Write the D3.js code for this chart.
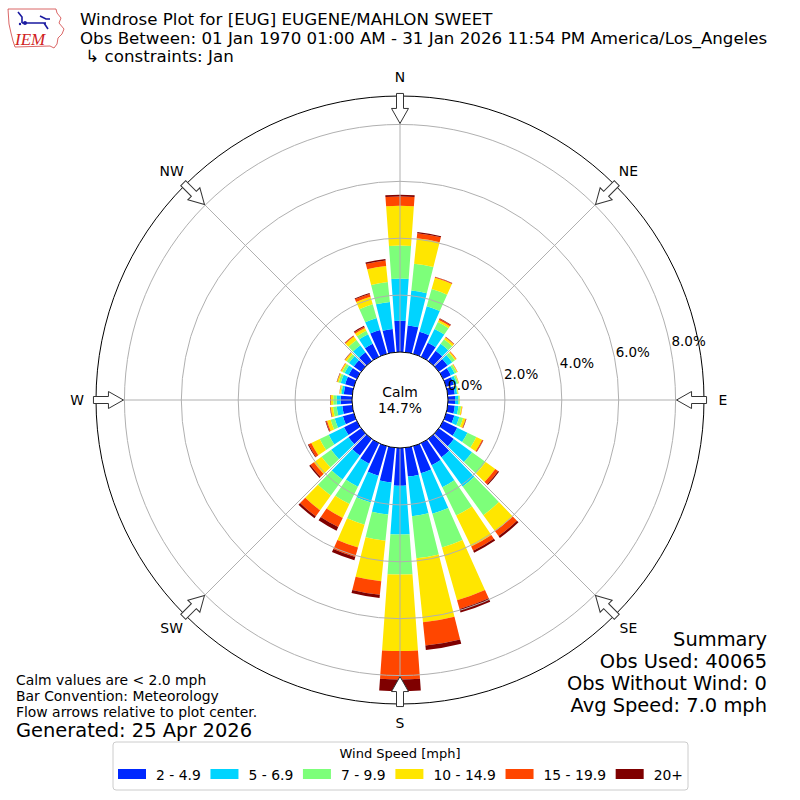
<!DOCTYPE html>
<html>
<head>
<meta charset="utf-8">
<script src="https://cdn.jsdelivr.net/npm/d3@7"></script>
<style>
  body { margin: 0; background: #fff; }
  svg { font-family: "DejaVu Sans", sans-serif; }
</style>
</head>
<body>
<div id="chart"></div>
<script>
// direction of each bar, degrees from north
var directions = d3.range(0, 360, 10);
var speedBins = ["2 - 4.9", "5 - 6.9", "7 - 9.9", "10 - 14.9", "15 - 19.9", "20+"];
var binColors = ["#0028ff", "#00d4ff", "#7dff7a", "#ffe600", "#ff4600", "#7f0000"];

// percent of obs per direction, one array per speed bin
var speed2to5 = [1.10,0.95,0.81,0.55,0.45,0.38,0.30,0.28,0.25,0.25,0.25,0.30,0.55,0.65,0.80,0.86,0.99,1.02,1.33,1.23,1.08,0.80,0.72,0.55,0.50,0.40,0.35,0.40,0.30,0.32,0.32,0.32,0.38,0.51,0.87,0.82];
var speed5to7 = [1.48,1.23,0.93,0.54,0.30,0.20,0.15,0.10,0.08,0.11,0.13,0.18,0.40,0.79,1.27,0.86,1.48,1.40,1.71,1.13,0.98,0.90,1.04,0.75,0.60,0.30,0.20,0.14,0.08,0.16,0.16,0.21,0.31,0.37,0.44,0.96];
var speed7to10 = [1.16,0.95,0.63,0.27,0.20,0.12,0.08,0.06,0.03,0.05,0.09,0.14,0.35,0.59,1.24,1.11,1.23,1.49,1.41,0.93,0.81,0.68,0.70,0.42,0.35,0.15,0.13,0.12,0.04,0.08,0.09,0.10,0.23,0.14,0.50,0.70];
var speed10to15 = [1.40,0.90,0.41,0.08,0.08,0.05,0.03,0.02,0.02,0.01,0.04,0.09,0.22,0.42,0.70,1.21,1.93,2.26,2.69,1.43,0.83,0.54,0.64,0.33,0.33,0.13,0.08,0.08,0.03,0.05,0.05,0.07,0.15,0.11,0.28,0.57];
var speed15to20 = [0.33,0.18,0.03,0.05,0.02,0.02,0.01,0.01,0.00,0.00,0.01,0.02,0.04,0.12,0.21,0.16,0.32,0.82,1.00,0.48,0.35,0.36,0.26,0.15,0.10,0.04,0.02,0.02,0.01,0.01,0.02,0.01,0.03,0.05,0.10,0.19];
var speed20up = [0.06,0.04,0.01,0.02,0.01,0.00,0.00,0.00,0.00,0.00,0.00,0.01,0.01,0.04,0.08,0.08,0.13,0.16,0.41,0.11,0.12,0.14,0.08,0.05,0.03,0.02,0.01,0.01,0.00,0.01,0.00,0.01,0.01,0.03,0.03,0.06];

var ringTicks = [0, 2, 4, 6, 8];
var compassLabels = ["N", "NE", "E", "SE", "S", "SW", "W", "NW"];
var calmPct = "14.7%";

var titleLines = [
  "Windrose Plot for [EUG] EUGENE/MAHLON SWEET",
  "Obs Between: 01 Jan 1970 01:00 AM - 31 Jan 2026 11:54 PM America/Los_Angeles",
  " \u21b3 constraints: Jan"
];
var noteLines = ["Calm values are < 2.0 mph", "Bar Convention: Meteorology", "Flow arrows relative to plot center."];
var generated = "Generated: 25 Apr 2026";
var summaryLines = ["Summary", "Obs Used: 40065", "Obs Without Wind: 0", "Avg Speed: 7.0 mph"];

var series = [speed2to5, speed5to7, speed7to10, speed10to15, speed15to20, speed20up];

var width = 800, height = 800, cx = 400, cy = 400;
var rad = Math.PI / 180;
var small = 13.9, title = 16.67, big = 19.44;

var svg = d3.select("#chart").append("svg")
  .attr("width", width)
  .attr("height", height);

// radius scale, calm circle takes the middle
var r = d3.scaleLinear().domain([0, 9]).range([48, 304]);

var table = directions.map(function(d, i) {
  var row = { dir: d };
  speedBins.forEach(function(b, j) { row[b] = series[j][i]; });
  return row;
});
var stacked = d3.stack().keys(speedBins)(table);

var plot = svg.append("g").attr("transform", "translate(" + cx + "," + cy + ")");

var arc = d3.arc();
var halfWidth = 4.1;

// bars
plot.selectAll("g.bin")
  .data(stacked)
  .enter().append("g")
  .attr("class", "bin")
  .attr("fill", function(d, i) { return binColors[i]; })
  .selectAll("path")
  .data(function(d) { return d; })
  .enter().append("path")
  .attr("d", function(d) {
    return arc({
      innerRadius: r(d[0]),
      outerRadius: r(d[1]),
      startAngle: (d.data.dir - halfWidth) * rad,
      endAngle: (d.data.dir + halfWidth) * rad
    });
  });

// grid circles
plot.selectAll("circle.grid")
  .data(ringTicks.filter(function(t) { return t > 0; }))
  .enter().append("circle")
  .attr("class", "grid")
  .attr("r", function(d) { return r(d); })
  .attr("fill", "none")
  .attr("stroke", "#b0b0b0")
  .attr("stroke-width", 1);

// radial grid lines
plot.selectAll("line.spoke")
  .data(d3.range(0, 360, 45))
  .enter().append("line")
  .attr("class", "spoke")
  .attr("x1", function(d) { return r(0) * Math.sin(d * rad); })
  .attr("y1", function(d) { return -r(0) * Math.cos(d * rad); })
  .attr("x2", function(d) { return r(9) * Math.sin(d * rad); })
  .attr("y2", function(d) { return -r(9) * Math.cos(d * rad); })
  .attr("stroke", "#b0b0b0")
  .attr("stroke-width", 1);

// outer frame
plot.append("circle")
  .attr("r", r(9))
  .attr("fill", "none")
  .attr("stroke", "#000")
  .attr("stroke-width", 1);

// calm circle
plot.append("circle")
  .attr("r", r(0))
  .attr("fill", "#fff")
  .attr("stroke", "#000")
  .attr("stroke-width", 1);

plot.append("text")
  .attr("x", 0).attr("y", -3)
  .attr("text-anchor", "middle")
  .attr("font-size", small)
  .text("Calm");
plot.append("text")
  .attr("x", 0).attr("y", 13)
  .attr("text-anchor", "middle")
  .attr("font-size", small)
  .text(calmPct);

// ring labels
var labelAngle = 11 * rad;
plot.selectAll("text.ring")
  .data(ringTicks)
  .enter().append("text")
  .attr("class", "ring")
  .attr("x", function(d) { return r(d) * Math.cos(labelAngle) + 1; })
  .attr("y", function(d) { return -r(d) * Math.sin(labelAngle) - 1; })
  .attr("font-size", 13.5)
  .text(function(d) { return d.toFixed(1) + "%"; });

// compass labels
plot.selectAll("text.compass")
  .data(compassLabels)
  .enter().append("text")
  .attr("class", "compass")
  .attr("x", function(d, i) { return (r(9) + 19) * Math.sin(i * 45 * rad); })
  .attr("y", function(d, i) { return -(r(9) + 19) * Math.cos(i * 45 * rad); })
  .attr("text-anchor", "middle")
  .attr("dy", "0.35em")
  .attr("font-size", small)
  .text(function(d) { return d; });

// inward flow arrows
var arrowShape = [[0, 0], [8.5, -15], [3.5, -15], [3.5, -30], [-3.5, -30], [-3.5, -15], [-8.5, -15]];
plot.selectAll("path.arrow")
  .data(d3.range(0, 360, 45))
  .enter().append("path")
  .attr("class", "arrow")
  .attr("d", "M" + arrowShape.join("L") + "Z")
  .attr("transform", function(d) {
    var tip = r(8) + 1;
    return "translate(" + (tip * Math.sin(d * rad)) + "," + (-tip * Math.cos(d * rad)) + ") rotate(" + d + ")";
  })
  .attr("fill", "#fff")
  .attr("stroke", "#333")
  .attr("stroke-width", 1);

// title block
svg.selectAll("text.title")
  .data(titleLines)
  .enter().append("text")
  .attr("class", "title")
  .attr("x", 80)
  .attr("y", function(d, i) { return 25 + i * 18.5; })
  .attr("font-size", title)
  .style("white-space", "pre")
  .text(function(d) { return d; });

// IEM logo
var logo = svg.append("g");
logo.append("path")
  .attr("d", "M8,9 L56,9 L57,13 L61,18 L59,23 L64,29 L62,34 L58,38 L57,44 L54,48 L50,46 L15,47 L13,41 L11,33 L9,24 Z")
  .attr("fill", "none")
  .attr("stroke", "#d04040")
  .attr("stroke-width", 0.8);
logo.append("path")
  .attr("d", "M22,23 L46,23 M40,16 L46,19 L50,19 M44,23 L48,29 M18,12 L22,17 L22,23")
  .attr("fill", "none")
  .attr("stroke", "#1a1aa0")
  .attr("stroke-width", 1.6);
logo.append("circle").attr("cx", 25).attr("cy", 23).attr("r", 2).attr("fill", "#1a1aa0");
logo.append("circle").attr("cx", 20).attr("cy", 24).attr("r", 1.2).attr("fill", "#1a1aa0");
logo.append("text")
  .attr("x", 15).attr("y", 45)
  .attr("font-family", "Liberation Serif, serif")
  .attr("font-style", "italic")
  .attr("font-size", 17)
  .attr("fill", "#d02020")
  .text("IEM");

// notes bottom-left
svg.selectAll("text.note")
  .data(noteLines)
  .enter().append("text")
  .attr("class", "note")
  .attr("x", 16)
  .attr("y", function(d, i) { return 685 + i * 16; })
  .attr("font-size", small)
  .text(function(d) { return d; });
svg.append("text")
  .attr("x", 16).attr("y", 737)
  .attr("font-size", big)
  .text(generated);

// summary bottom-right
svg.selectAll("text.summary")
  .data(summaryLines)
  .enter().append("text")
  .attr("class", "summary")
  .attr("x", 767)
  .attr("y", function(d, i) { return 646 + i * 22; })
  .attr("text-anchor", "end")
  .attr("font-size", big)
  .text(function(d) { return d; });

// legend
var legend = svg.append("g");
legend.append("rect")
  .attr("x", 113).attr("y", 742)
  .attr("width", 575).attr("height", 48)
  .attr("rx", 3)
  .attr("fill", "#fff")
  .attr("stroke", "#cccccc");
legend.append("text")
  .attr("x", 400).attr("y", 758)
  .attr("text-anchor", "middle")
  .attr("font-size", 13)
  .text("Wind Speed [mph]");

var items = legend.selectAll("g.item")
  .data(speedBins)
  .enter().append("g")
  .attr("class", "item");
items.append("rect")
  .attr("width", 28).attr("height", 10)
  .attr("y", 769)
  .attr("fill", function(d, i) { return binColors[i]; });
items.append("text")
  .attr("y", 779.5)
  .attr("font-size", small)
  .text(function(d) { return d; });

// lay legend entries out from the text widths between 118 and 683
var widths = [];
items.select("text").each(function() { widths.push(this.getComputedTextLength()); });
var gap = (683 - 118 - d3.sum(widths) - widths.length * 38) / (widths.length - 1);
var xPos = 118;
items.each(function(d, i) {
  var g = d3.select(this);
  g.select("rect").attr("x", xPos);
  g.select("text").attr("x", xPos + 38);
  xPos += 38 + widths[i] + gap;
});
</script>
</body>
</html>
